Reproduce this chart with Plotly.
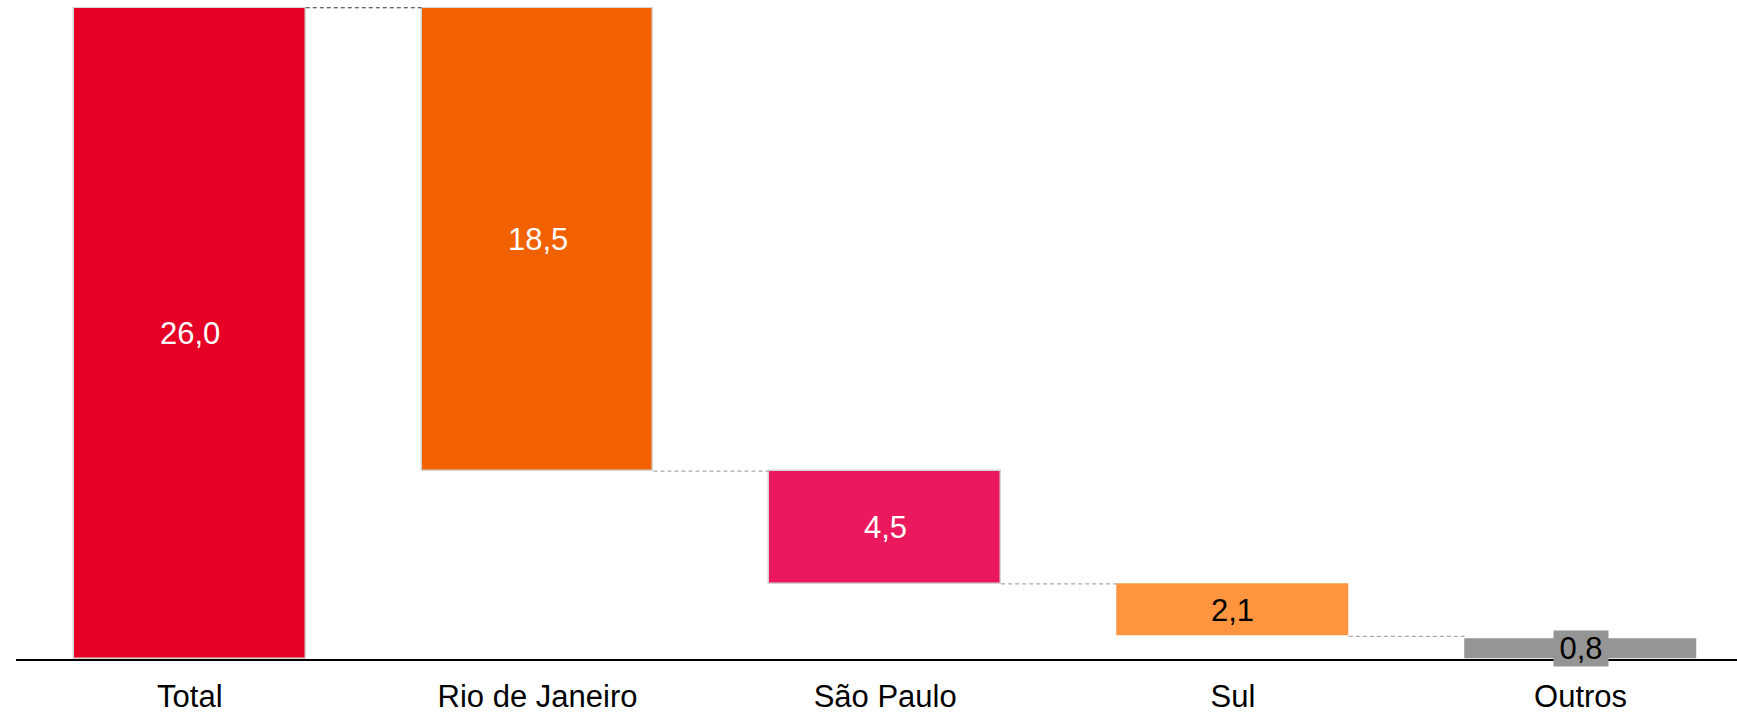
import plotly.graph_objects as go

categories = ["Total", "Rio de Janeiro", "São Paulo", "Sul", "Outros"]
values = [26.0, 18.5, 4.5, 2.1, 0.8]
labels = ["26,0", "18,5", "4,5", "2,1", "0,8"]
colors = ["#e60026", "#f26100", "#ec185d", "#ff963f", "#959595"]
label_colors = ["white", "white", "white", "black", "black"]
outline = ["#d4d4d4", "#d4d4d4", "#d4d4d4", "rgba(0,0,0,0)", "rgba(0,0,0,0)"]

BAR_W = 0.667
FONT = "Liberation Sans, Arial"

# bases: total from 0, then each part hangs from the remaining level,
# last one ("Outros") sits on the axis
bases = [0.0]
level = values[0]
for v in values[1:-1]:
    level -= v
    bases.append(level)
bases.append(0.0)
tops = [b + v for b, v in zip(bases, values)]

x = list(range(len(categories)))

fig = go.Figure()
fig.add_trace(go.Bar(
    x=x,
    y=values,
    base=bases,
    width=BAR_W,
    marker_color=colors,
    marker_line_color=outline,
    marker_line_width=1.5,
    hoverinfo="skip",
    showlegend=False,
))

# connectors between bars
for i in range(len(categories) - 1):
    y_lvl = bases[i] if i > 0 else tops[i]
    fig.add_trace(go.Scatter(
        x=[x[i] + BAR_W / 2, x[i + 1] - BAR_W / 2],
        y=[y_lvl, y_lvl],
        mode="lines",
        line=dict(color="#333333" if i == 0 else "#aaaaaa", width=1.2, dash="4px,3px"),
        hoverinfo="skip",
        showlegend=False,
    ))

# value labels
for i, lab in enumerate(labels):
    last = i == len(labels) - 1
    fig.add_annotation(
        x=x[i],
        y=bases[i] + values[i] / 2,
        text=lab,
        showarrow=False,
        font=dict(family=FONT, size=31, color=label_colors[i]),
        bgcolor=colors[i] if last else None,
        width=50 if last else None,
        height=31 if last else None,
        borderpad=2 if last else 0,
    )

fig.update_layout(
    width=1737,
    height=715,
    margin=dict(l=16, r=0, t=7, b=56),
    plot_bgcolor="white",
    paper_bgcolor="white",
    bargap=0,
    font=dict(family=FONT, size=31, color="black"),
    xaxis=dict(
        range=[-0.5, 4.45],
        tickvals=x,
        ticktext=categories,
        showgrid=False,
        zeroline=False,
        showline=True,
        linecolor="black",
        linewidth=2,
        ticks="",
        ticklabelstandoff=9,
        tickfont=dict(size=31),
    ),
    yaxis=dict(
        range=[0, 26.03],
        visible=False,
        showgrid=False,
        zeroline=False,
    ),
)

# page body margin would push the fixed-size figure off the window
fig.write_html(
    "out.html",
    config={"displayModeBar": False},
    post_script="document.body.style.margin='0';",
)
